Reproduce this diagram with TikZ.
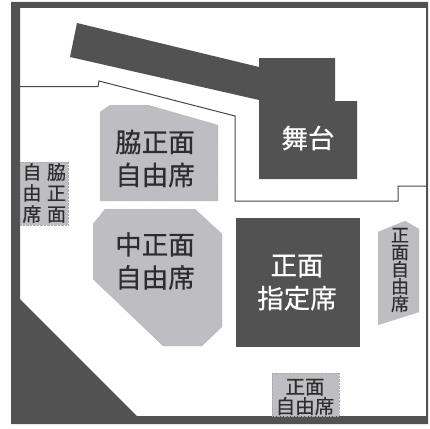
\documentclass[tikz,border=0pt]{standalone}
\usepackage{xcolor}
\usepackage{fontspec}
\setmainfont[FakeBold=0.5]{Noto Sans CJK JP}
\definecolor{darkarea}{RGB}{82,82,82}
\definecolor{seatgray}{RGB}{190,190,194}
\definecolor{linegray}{RGB}{70,70,70}
\definecolor{labelgray}{RGB}{45,45,45}
\begin{document}
\begin{tikzpicture}[
    x=1pt, y=-1pt,
    solidarea/.style={fill=darkarea, draw=none},
    seatarea/.style={fill=seatgray, draw=seatgray!90!black, densely dotted, line width=0.4pt},
    biglabel/.style={align=center, text=labelgray, font=\fontsize{26.5}{33}\selectfont, inner sep=0pt},
    smalllabel/.style={align=center, text=labelgray, font=\fontsize{19}{21}\selectfont, inner sep=0pt},
    narrowlabel/.style={align=center, text=labelgray, font=\fontsize{18}{17.2}\selectfont, inner sep=0pt},
    bottomlabel/.style={align=center, text=labelgray, font=\fontsize{19.5}{19.5}\selectfont, inner sep=0pt}
]
    \useasboundingbox (0,0) rectangle (430,428);
    % hall outline
    \fill[darkarea, even odd rule] (11,2) rectangle (428,424)
        (20,8) -- (426,8) -- (426,416) -- (137,416) -- (20,299) -- cycle;
    % stage
    \fill[solidarea] (77,23) -- (259,67) -- (259,58) -- (335,58) -- (335,101) -- (357,101)
        -- (357,179) -- (259,179) -- (259,100) -- (70,57) -- cycle;
    % floor line
    \draw[linegray, line width=1pt] (20,86.5) -- (98,86.5) -- (99,81) -- (235,116) -- (235,201)
        -- (398,201) -- (398,186) -- (426,186);
    % seats
    \filldraw[seatarea] (100,112) -- (110,105) -- (148,105) -- (218,125) -- (218,201) -- (100,201) -- cycle;
    \filldraw[seatarea] (105,209) -- (195,209) -- (222,234) -- (222,327) -- (202,346) -- (163,346)
        -- (93,279) -- (93,224) -- cycle;
    \fill[solidarea] (236,218) rectangle (360,347);
    \filldraw[seatarea] (378,232) -- (405,221) -- (419,229) -- (419,312) -- (378,325) -- cycle;
    \filldraw[seatarea] (272,373) rectangle (339,416);
    \filldraw[seatarea] (20,162) rectangle (68,225);
    % labels
    \node[biglabel, text=white] (stage) at (308,138) {舞台};
    \node[biglabel] (wakishomen) at (155,158.5) {脇正面\\自由席};
    \node[biglabel] (nakashomen) at (155,261) {中正面\\自由席};
    \node[biglabel, text=white] (shomen) at (297,282.5) {正面\\指定席};
    \node[narrowlabel] (rightseat) at (400,270) {正\\面\\自\\由\\席};
    \node[bottomlabel] (bottomseat) at (305,397) {正面\\自由席};
    \node[smalllabel] (leftseata) at (32,193) {自\\由\\席};
    \node[smalllabel] (leftseatb) at (56.5,193) {脇\\正\\面};
\end{tikzpicture}
\end{document}
